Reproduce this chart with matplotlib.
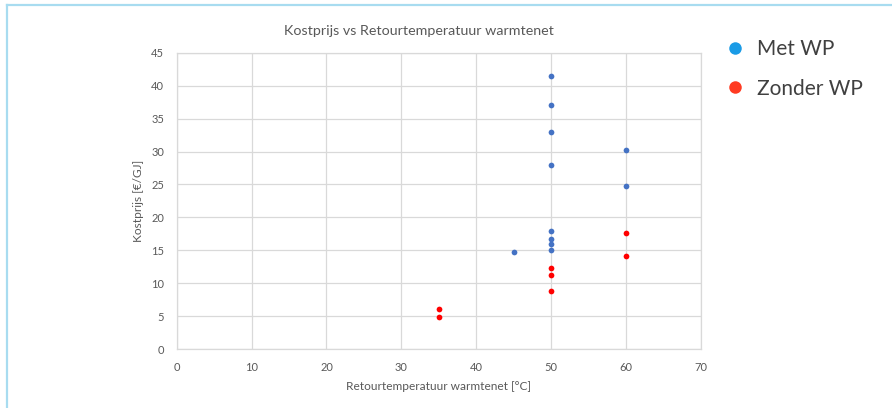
import matplotlib
matplotlib.use("Agg")
import matplotlib.pyplot as plt
from matplotlib.lines import Line2D

plt.rcParams['font.family'] = ['Lato', 'DejaVu Sans']

# Data
met_wp_x = [50, 50, 50, 50, 50, 50, 50, 50, 45, 60, 60]
met_wp_y = [41.5, 37.0, 33.0, 27.9, 17.9, 16.8, 16.0, 15.0, 14.7, 30.3, 24.7]
zonder_wp_x = [50, 50, 50, 60, 60, 35, 35]
zonder_wp_y = [12.4, 11.2, 8.9, 17.7, 14.2, 6.1, 4.9]
series_names = ["Met WP", "Zonder WP"]
x_ticks = [0, 10, 20, 30, 40, 50, 60, 70]
y_ticks = [0, 5, 10, 15, 20, 25, 30, 35, 40, 45]

fig = plt.figure(figsize=(8.92, 4.08), dpi=100)
ax = fig.add_axes([0.198, 0.144, 0.588, 0.727])

grid_c = '#d9d9d9'
txt_c = '#595959'

ax.scatter(met_wp_x, met_wp_y, s=17, color='#4472c4', zorder=3, linewidths=0)
ax.scatter(zonder_wp_x, zonder_wp_y, s=17, color='#ff0000', zorder=3, linewidths=0)

ax.set_xlim(0, 70)
ax.set_ylim(0, 45)
ax.set_xticks(x_ticks)
ax.set_yticks(y_ticks)
ax.grid(True, color=grid_c, linewidth=0.9)
ax.set_axisbelow(True)
for s in ax.spines.values():
    s.set_color(grid_c)
    s.set_linewidth(0.9)
ax.tick_params(length=0, labelsize=8, colors=txt_c, pad=9)

fig.text(0.47, 1 - 31 / 408, "Kostprijs vs Retourtemperatuur warmtenet", fontsize=10.3,
         color=txt_c, ha='center', va='center')
ax.set_xlabel("Retourtemperatuur warmtenet [°C]", fontsize=8.6, color=txt_c, labelpad=6)
ax.set_ylabel("Kostprijs [€/GJ]", fontsize=8.6, color=txt_c, labelpad=5)

handles = [Line2D([0], [0], marker='o', linestyle='none', markersize=9,
                  markerfacecolor='#1a9be6', markeredgewidth=0),
           Line2D([0], [0], marker='o', linestyle='none', markersize=9,
                  markerfacecolor='#ff3b22', markeredgewidth=0)]
leg = fig.legend(handles, series_names, loc='upper left', bbox_to_anchor=(0.8005, 0.924),
                 frameon=False, fontsize=15, labelspacing=0.92, handletextpad=0.45,
                 handlelength=1.2, borderaxespad=0)
for t in leg.get_texts():
    t.set_color('#404040')

# light blue frame on top and left
fig.add_artist(Line2D([0.0075, 1.0], [0.988, 0.988], transform=fig.transFigure,
                      color='#a8dcf0', linewidth=1.6))
fig.add_artist(Line2D([0.0075, 0.0075], [0.0, 0.988], transform=fig.transFigure,
                      color='#a8dcf0', linewidth=1.6))

fig.savefig("out.png", dpi=100)
